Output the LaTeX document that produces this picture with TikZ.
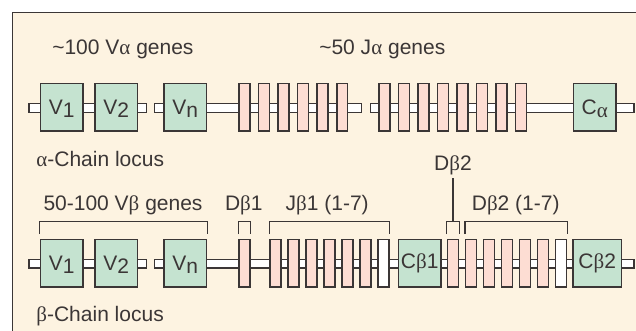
\documentclass[tikz,border=0pt]{standalone}
\usepackage{fontspec}
\setmainfont{Liberation Sans}
\newfontfamily\gk{Liberation Serif}
\usetikzlibrary{calc}
\definecolor{cream}{HTML}{FDF3E1}
\definecolor{gfill}{HTML}{C5E3D0}
\definecolor{pfill}{HTML}{FDDDD3}
\definecolor{ink}{HTML}{3B3636}
\newcommand{\ga}{{\gk α}}
\newcommand{\gb}{{\gk β}}
\newcommand{\lo}[1]{\raisebox{-3pt}[0pt][0pt]{#1}}
\begin{document}
\begin{tikzpicture}[x=1pt,y=-1pt,
  every node/.style={font=\fontsize{21}{25}\selectfont, text=ink},
  gene/.style={draw=ink, line width=1.5pt, minimum height=47.5pt, inner sep=0pt, anchor=center},
  gbox/.style={gene, fill=gfill, minimum width=42.5pt},
  pbox/.style={gene, fill=pfill, minimum width=10.9pt},
  wbox/.style={gene, fill=white, minimum width=10.9pt},
  bar/.style={draw=ink, fill=white, line width=1.5pt},
  brk/.style={draw=ink, line width=1.3pt},
  lbl/.style={anchor=base, inner sep=0pt}]
\useasboundingbox (0,0) rectangle (636,331);
\fill[white] (0,0) rectangle (636,331);
\draw[ink, fill=cream, line width=1.3pt] (12.5,12.7) rectangle (660,350);

% ---- alpha locus backbone
\coordinate (a1s) at (29,103.6);  \coordinate (a1e) at (146.4,112.4);
\coordinate (a2s) at (154.6,103.6); \coordinate (a2e) at (361.4,112.4);
\coordinate (a3s) at (370.6,103.6); \coordinate (a3e) at (634,112.4);
\draw[bar] (a1s) rectangle (a1e);
\draw[bar] (a2s) rectangle (a2e);
\draw[bar] (a3s) rectangle (a3e);

\node[gbox] (aV1) at (61.7,107.2) {V\lo{1}};
\node[gbox] (aV2) at (116.3,107.2) {V\lo{2}};
\node[gbox] (aVn) at (185.3,107.2) {V\lo{n}};
\foreach \i in {0,...,5} \node[pbox] (aJa\i) at (244.45+19.55*\i,107.2) {};
\foreach \i in {0,...,7} \node[pbox] (aJb\i) at (384.45+19.53*\i,107.2) {};
\node[gbox] (aC) at (594.7,107.2) {C\lo{\ga}};

\node[lbl] (tVa) at (122.9,55) {\textasciitilde 100 V\ga{} genes};
\node[lbl] (tJa) at (382.3,55) {\textasciitilde 50 J\ga{} genes};
\node[lbl, anchor=base west] (tAl) at (36.2,167) {\ga-Chain locus};

% ---- beta locus backbone
\coordinate (b1s) at (29,259.4);  \coordinate (b1e) at (146.4,268);
\coordinate (b2s) at (154.6,259.4); \coordinate (b2e) at (634,268);
\draw[bar] (b1s) rectangle (b1e);
\draw[bar] (b2s) rectangle (b2e);

\node[gbox] (bV1) at (61.7,263.4) {V\lo{1}};
\node[gbox] (bV2) at (116.3,263.4) {V\lo{2}};
\node[gbox] (bVn) at (185.3,263.4) {V\lo{n}};
\node[pbox] (bD1) at (244.5,263.4) {};
\foreach \i in {0,...,5} \node[pbox] (bJa\i) at (275.45+18*\i,263.4) {};
\node[wbox] (bJa6) at (383.45,263.4) {};
\node[gbox] (bC1) at (419.7,263.4) {C\gb 1};
\node[pbox] (bD2) at (453,263.4) {};
\foreach \i in {0,...,4} \node[pbox] (bJb\i) at (471.15+18*\i,263.4) {};
\node[wbox] (bJb5) at (561.15,263.4) {};
\node[gbox, minimum width=48.2pt] (bC2) at (597.2,263.4) {C\gb 2};

% ---- brackets
\coordinate (bb) at (0,234);
\coordinate (bt) at (0,221.7);
\coordinate (bd2t) at (0,177.7);
\draw[brk] (bV1.north west |- bb) -- (bV1.north west |- bt) -- (bVn.north east |- bt) -- (bVn.north east |- bb);
\draw[brk] (bD1.north west |- bb) -- (bD1.north west |- bt) -- (bD1.north east |- bt) -- (bD1.north east |- bb);
\draw[brk] (bJa0.north west |- bb) -- (bJa0.north west |- bt) -- (bJa6.north east |- bt) -- (bJa6.north east |- bb);
\draw[brk] (bD2.north west |- bb) -- (bD2.north west |- bt) -- (bD2.north east |- bt) -- (bD2.north east |- bb);
\draw[brk] (bD2.north |- bt) -- (bD2.north |- bd2t);
\draw[brk] (bJb0.north west |- bb) -- (bJb0.north west |- bt) -- (bJb5.north east |- bt) -- (bJb5.north east |- bb);

\node[lbl] (tVb) at (123,210.7) {50-100 V\gb{} genes};
\node[lbl] (tD1) at (243.8,210.7) {D\gb 1};
\node[lbl] (tJ1) at (327.2,210.7) {J\gb 1 (1-7)};
\node[lbl] (tJ2) at (515.7,210.7) {D\gb 2 (1-7)};
\node[lbl] (tD2) at (453,170) {D\gb 2};
\node[lbl, anchor=base west] (tBl) at (36.2,321.7) {\gb-Chain locus};
\end{tikzpicture}
\end{document}
